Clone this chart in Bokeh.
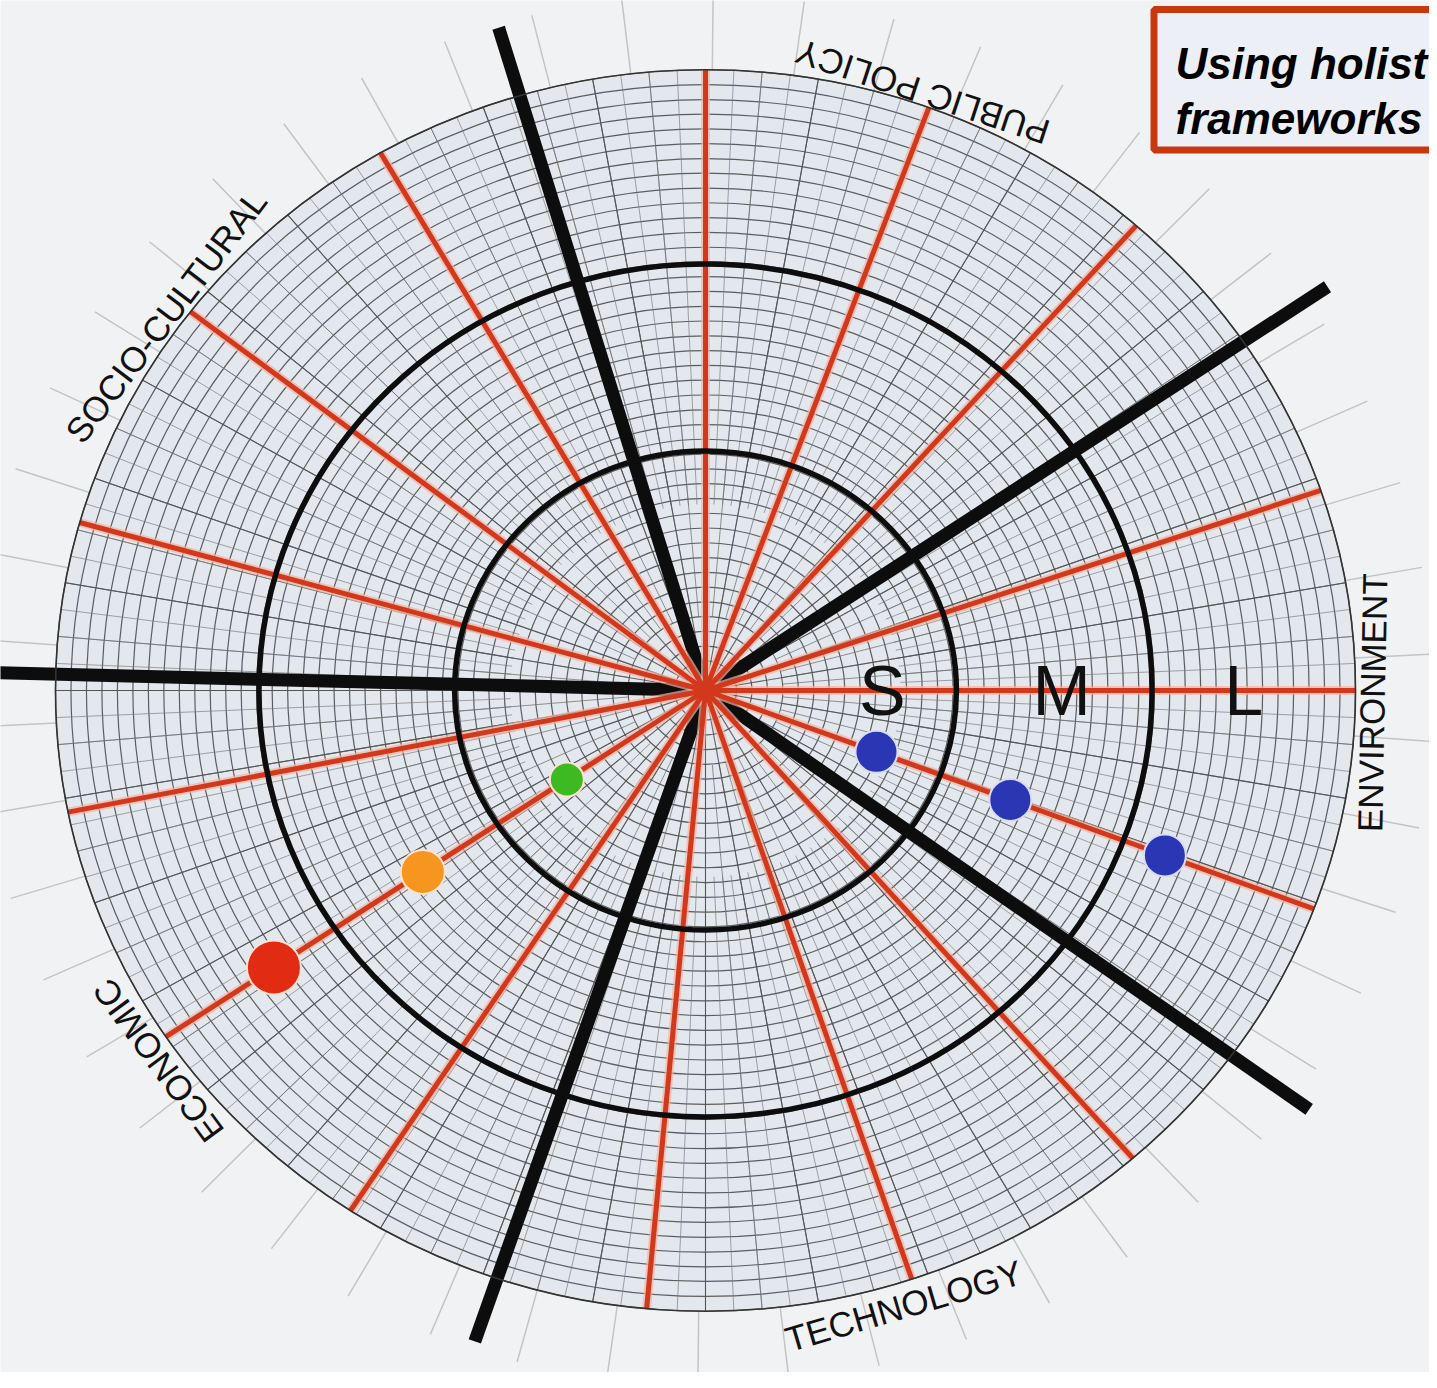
import numpy as np
from bokeh.plotting import figure
from bokeh.models import Range1d
from bokeh.core.properties import value
from bokeh.embed import file_html
from bokeh.resources import INLINE

# ---------------- data ----------------
categories = ["PUBLIC POLICY", "SOCIO-CULTURAL", "ECONOMIC", "TECHNOLOGY", "ENVIRONMENT"]
label_theta = [70.9, 144.0, 215.3, 287.1, -1.1]          # degrees, centre of label
label_r = [1.020, 1.026, 1.032, 1.037, 1.026]             # radius (outer ring = 1)
label_dir = ["ccw", "cw", "cw", "ccw", "ccw"]            # reading direction

divider_theta = [34.2, 106.6, 178.5, 251.3, 324.0]       # thick black sector lines
divider_len = [1.157, 1.114, 1.12, 1.107, 1.148]

spoke_theta = [0.0, 18.8, 48.5, 69.9, 90.0, 120.0, 142.4, 164.3,
               191.3, 213.9, 236.9, 264.8, 288.5, 311.1, 339.4]  # red spokes

horizon_rings = [0.386, 0.687, 1.0]      # S / M / L boundaries
n_grid_rings = 42
horizon_labels = ["S", "M", "L"]
horizon_r = [0.272, 0.548, 0.828]

econ_theta = 213.9
econ_r = [0.257, 0.524, 0.800]
econ_colors = ["#3dba22", "#f7961e", "#e12b12"]
econ_sizes = [34, 44, 54]

env_theta = 339.4
env_r = [0.281, 0.501, 0.755]
env_color = "#2b36b4"
env_size = 42

title_lines = ["Using holist", "frameworks"]

# ---------------- geometry helpers ----------------
W, H = 1429, 1372
CX, CY = 705.0, 690.0      # px of the centre
SX, SY = 650.0, 620.75     # px per unit radius (x, y)


def px2x(X):
    return (X - CX) / SX


def px2y(Y):
    return (CY - Y) / SY


def polar(r, deg):
    t = np.radians(deg)
    return r * np.cos(t), r * np.sin(t)


p = figure(width=W, height=H,
           x_range=Range1d(px2x(0), px2x(W)),
           y_range=Range1d(px2y(H), px2y(0)),
           output_backend="svg", toolbar_location=None,
           x_axis_location=None, y_axis_location=None,
           min_border=0)
p.grid.visible = False
p.outline_line_color = None
p.background_fill_color = "#f1f2f4"
p.border_fill_color = "#f1f2f4"

# disk tint
p.ellipse(x=0, y=0, width=2.0, height=2.0, fill_color="#e3e8ee",
          line_color=None)

# faint outside ticks
tick_a = np.arange(0, 360, 7.2) + 3.0
xs, ys = [], []
for a in tick_a:
    x0, y0 = polar(1.0, a)
    x1, y1 = polar(1.12, a)
    xs.append([x0, x1]); ys.append([y0, y1])
p.multi_line(xs, ys, line_color="#c2c4c6", line_width=1.5)

# concentric grid rings
rr = np.arange(1, n_grid_rings + 1) / n_grid_rings
p.ellipse(x=np.zeros_like(rr), y=np.zeros_like(rr), width=2 * rr, height=2 * rr,
          fill_color=None, line_color="#444444", line_width=1.2, line_alpha=0.85)


# radial grid lines
def radials(step, r0, color, lw, alpha):
    xs, ys = [], []
    for a in np.arange(0, 360, step):
        x0, y0 = polar(r0, a)
        x1, y1 = polar(1.0, a)
        xs.append([x0, x1]); ys.append([y0, y1])
    p.multi_line(xs, ys, line_color=color, line_width=lw, line_alpha=alpha)


radials(2.5, 0.30, "#7a7a7a", 0.9, 0.75)
radials(5.0, 0.12, "#6a6a6a", 0.9, 0.8)
radials(10.0, 0.03, "#4d4d4d", 1.1, 0.85)

# thick black sector dividers
xs, ys = [], []
for a, L in zip(divider_theta, divider_len):
    x1, y1 = polar(L, a)
    xs.append([0, x1]); ys.append([0, y1])
p.multi_line(xs, ys, line_color="#0d0d0d", line_width=13)

# red spokes with halo
xs, ys = [], []
for a in spoke_theta:
    x1, y1 = polar(1.0, a)
    xs.append([0, x1]); ys.append([0, y1])
p.multi_line(xs, ys, line_color="#f3b3a2", line_width=9, line_alpha=0.7)
p.multi_line(xs, ys, line_color="#d2391c", line_width=5)

# horizon rings (black)
hr = np.array(horizon_rings[:2])
p.ellipse(x=np.zeros_like(hr), y=np.zeros_like(hr), width=2 * hr, height=2 * hr,
          fill_color=None, line_color="#0d0d0d", line_width=5.5)
p.ellipse(x=0, y=0, width=2.0, height=2.0, fill_color=None,
          line_color="#333333", line_width=1.6)

# dots
ex, ey = polar(np.array(econ_r), econ_theta)
p.scatter(ex, ey, size=econ_sizes, fill_color=econ_colors, line_color="#fbe3d8",
          line_width=2)
vx, vy = polar(np.array(env_r), env_theta)
p.scatter(vx, vy, size=env_size, fill_color=env_color, line_color="#d9dcf5",
          line_width=2)

# S / M / L
p.text(x=horizon_r, y=[0, 0, 0], text=horizon_labels,
       text_font=value("Liberation Sans"), text_font_size="70px",
       text_align="center", text_baseline="middle", text_color="#111111")

# category labels (rotated along the rim)
lx, ly, lang = [], [], []
for lab, a, r, d in zip(categories, label_theta, label_r, label_dir):
    x, y = polar(r, a)
    t = np.radians(a)
    if d == "ccw":
        rot = np.arctan2(SY * np.cos(t), -SX * np.sin(t))
    else:
        rot = np.arctan2(-SY * np.cos(t), SX * np.sin(t))
    lx.append(x); ly.append(y); lang.append(rot)
p.text(x=lx, y=ly, text=categories, angle=lang,
       text_font=value("Liberation Sans"), text_font_size="35px",
       text_align="center", text_baseline="middle", text_color="#111111")

# title box (cut by the right edge as in the original)
p.quad(left=px2x(1153.5), right=px2x(1480), top=px2y(9), bottom=px2y(149.5),
       fill_color="#eceff6", line_color="#c8380f", line_width=7)
p.text(x=[px2x(1175), px2x(1175)], y=[px2y(63), px2y(118)], text=title_lines,
       text_font=value("Liberation Sans"), text_font_style="bold italic",
       text_font_size="44px", text_align="left", text_baseline="alphabetic",
       text_color="#000000")

open("out.html", "w").write(file_html(p, INLINE))
